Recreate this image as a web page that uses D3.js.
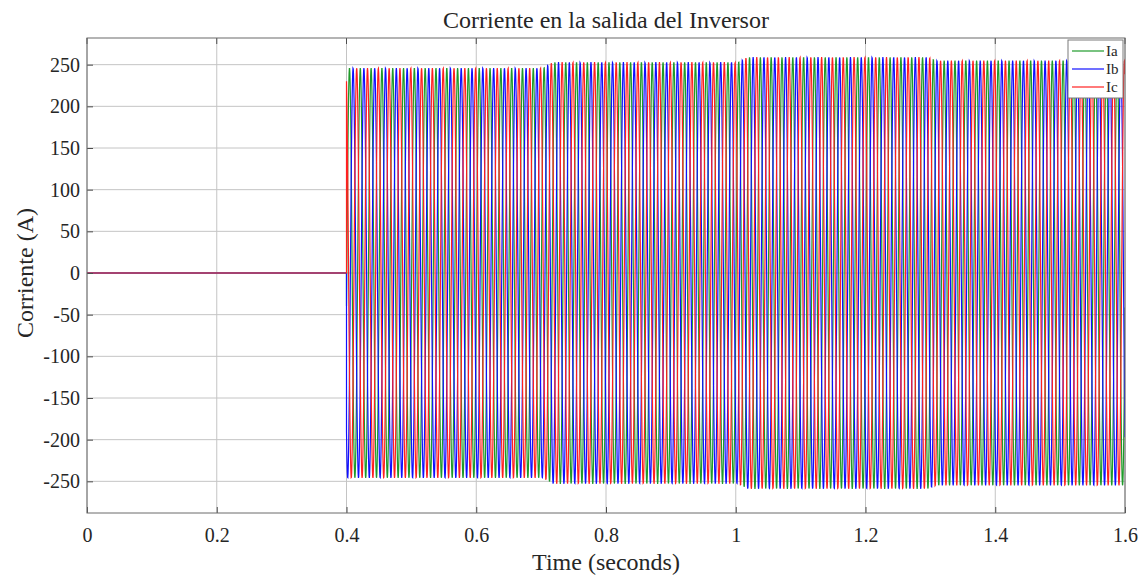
<!DOCTYPE html>
<meta charset="utf-8">
<script src="https://d3js.org/d3.v7.min.js"></script>
<style>
body { margin: 0; background: #fff; }
text { font-family: "Liberation Serif", "Times New Roman", serif; fill: #262626; }
.grid line { stroke: #c4c4c4; stroke-width: 1; }
.axis path { stroke: none; }
.axis line { stroke: #4d4d4d; }
.trace { fill: none; stroke-width: 1.2; }
</style>
<body>
<script>

// readings from the scope picture
var seriesNames = ["Ia", "Ib", "Ic"];
var seriesColors = ["#1f9a2a", "#1010ff", "#ff2020"];
var phaseShift = [0, -120, 120];          // degrees
var freq = 60;                            // Hz
var tStart = 0.4, tEnd = 1.6;             // inverter on
var tPeakGreen = 0.4046;                  // first Ia peak
// amplitude envelope (A)
var envTimes = [0.4, 0.703, 0.718, 1.003, 1.018, 1.296, 1.31, 1.6];
var envAmps  = [246, 246, 253, 253, 259, 259, 255, 255];
var xTicks = [0, 0.2, 0.4, 0.6, 0.8, 1, 1.2, 1.4, 1.6];
var yTicks = [-250, -200, -150, -100, -50, 0, 50, 100, 150, 200, 250];

var W = 1146, H = 578;
var margin = {top: 38, right: 21, bottom: 65, left: 87};
var width = W - margin.left - margin.right,
    height = H - margin.top - margin.bottom;

var svg = d3.select("body").append("svg")
  .attr("width", W)
  .attr("height", H);

var g = svg.append("g")
  .attr("transform", "translate(" + margin.left + "," + margin.top + ")");

var x = d3.scaleLinear().domain([0, 1.6]).range([0, width]);
var y = d3.scaleLinear().domain([-288, 282]).range([height, 0]);
var env = d3.scaleLinear().domain(envTimes).range(envAmps).clamp(true);

// grid
g.append("g").attr("class", "grid")
  .selectAll("line").data(xTicks).enter().append("line")
  .attr("x1", function(d) { return x(d); }).attr("x2", function(d) { return x(d); })
  .attr("y1", 0).attr("y2", height);
g.append("g").attr("class", "grid")
  .selectAll("line").data(yTicks).enter().append("line")
  .attr("y1", function(d) { return y(d); }).attr("y2", function(d) { return y(d); })
  .attr("x1", 0).attr("x2", width);

// build traces
var dt = 0.0004;
var series = seriesNames.map(function(name, k) {
  var pts = [[0, 0], [tStart, 0]];
  for (var t = tStart; t <= tEnd + 1e-9; t += dt) {
    var ph = 2 * Math.PI * freq * (t - tPeakGreen) + phaseShift[k] * Math.PI / 180;
    pts.push([t, env(t) * Math.cos(ph)]);
  }
  return {name: name, color: seriesColors[k], values: pts};
});

var line = d3.line()
  .x(function(d) { return x(d[0]); })
  .y(function(d) { return y(d[1]); });

g.append("defs").append("clipPath").attr("id", "clip")
  .append("rect").attr("width", width).attr("height", height);

g.append("g").attr("clip-path", "url(#clip)")
  .selectAll("path").data(series).enter().append("path")
  .attr("class", "trace")
  .attr("stroke", function(d) { return d.color; })
  .attr("d", function(d) { return line(d.values); });

// axes
var xAxis = d3.axisBottom(x).tickValues(xTicks).tickSize(-6).tickPadding(15)
  .tickFormat(function(d) { return String(+d.toFixed(1)); });
var yAxis = d3.axisLeft(y).tickValues(yTicks).tickSize(-6).tickPadding(7)
  .tickFormat(function(d) { return String(d); });

g.append("g").attr("class", "axis x")
  .attr("transform", "translate(0," + height + ")")
  .call(xAxis)
  .selectAll("text")
  .style("font-family", "'Liberation Serif', serif")
  .style("font-size", "20px").style("fill", "#262626");
g.append("g").attr("class", "axis y")
  .call(yAxis)
  .selectAll("text")
  .style("font-family", "'Liberation Serif', serif")
  .style("font-size", "20px").style("fill", "#262626");

// top ticks
g.append("g").selectAll("line").data(xTicks).enter().append("line")
  .attr("x1", function(d) { return x(d); }).attr("x2", function(d) { return x(d); })
  .attr("y1", 0).attr("y2", 6).attr("stroke", "#4d4d4d");

g.append("rect")
  .attr("width", width).attr("height", height)
  .attr("fill", "none").attr("stroke", "#6a6a6a").attr("stroke-width", 1);

// labels
svg.append("text")
  .attr("x", margin.left + width / 2).attr("y", 28)
  .attr("text-anchor", "middle").style("font-size", "24px")
  .text("Corriente en la salida del Inversor");
svg.append("text")
  .attr("x", margin.left + width / 2).attr("y", 570)
  .attr("text-anchor", "middle").style("font-size", "24px")
  .text("Time (seconds)");
svg.append("text")
  .attr("transform", "translate(33," + (margin.top + y(0)) + ") rotate(-90)")
  .attr("text-anchor", "middle").style("font-size", "24px")
  .text("Corriente (A)");

// legend
var lg = svg.append("g").attr("transform", "translate(1068,40)");
lg.append("rect").attr("width", 55).attr("height", 58)
  .attr("fill", "#fff").attr("stroke", "#7a7a7a");
var items = lg.selectAll("g").data(series).enter().append("g")
  .attr("transform", function(d, i) { return "translate(0," + (11 + i * 18) + ")"; });
items.append("line").attr("x1", 4).attr("x2", 36)
  .attr("stroke", function(d) { return d.color; }).attr("stroke-width", 1.2);
items.append("text").attr("x", 38).attr("dy", "0.35em")
  .style("font-size", "15px").text(function(d) { return d.name; });

</script>
</body>
